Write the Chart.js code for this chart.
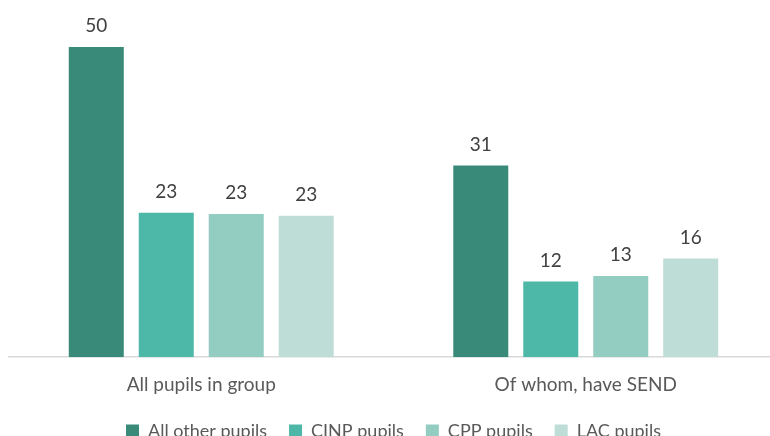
<!DOCTYPE html>
<html>
<head>
<meta charset="utf-8">
<script src="https://cdn.jsdelivr.net/npm/chart.js@4.4.1/dist/chart.umd.min.js"></script>
<style>
html,body{margin:0;padding:0;background:#fff;overflow:hidden;width:770px;height:436px;}
#wrap{width:780px;height:450px;position:relative;}
</style>
</head>
<body>
<div id="wrap"><canvas id="c" width="780" height="450"></canvas></div>
<script>
const categories = ["All pupils in group", "Of whom, have SEND"];
const seriesNames = ["All other pupils", "CINP pupils", "CPP pupils", "LAC pupils"];
const allOther = [50, 30.9];
const cinp = [23.3, 12.2];
const cpp = [23.1, 13.1];
const lac = [22.8, 15.9];
const colors = ["#3A8A7A", "#4DB8A8", "#93CCC1", "#BEDDD7"];

const FONT = "Lato, 'Liberation Sans', sans-serif";

const valueLabels = {
  id: "valueLabels",
  afterDatasetsDraw(chart) {
    const ctx = chart.ctx;
    ctx.save();
    ctx.font = "19px " + FONT;
    ctx.fillStyle = "#404040";
    ctx.textAlign = "center";
    ctx.textBaseline = "middle";
    chart.data.datasets.forEach((ds, i) => {
      const meta = chart.getDatasetMeta(i);
      meta.data.forEach((bar, j) => {
        ctx.fillText(Math.round(ds.data[j]).toString(), bar.x, bar.y - 21);
      });
    });
    ctx.restore();
  }
};

new Chart(document.getElementById("c"), {
  type: "bar",
  data: {
    labels: categories,
    datasets: [
      { label: seriesNames[0], data: allOther, backgroundColor: colors[0] },
      { label: seriesNames[1], data: cinp, backgroundColor: colors[1] },
      { label: seriesNames[2], data: cpp, backgroundColor: colors[2] },
      { label: seriesNames[3], data: lac, backgroundColor: colors[3] }
    ]
  },
  options: {
    responsive: false,
    animation: false,
    devicePixelRatio: 1,
    layout: { padding: { left: 9, right: 2, top: 16, bottom: 0 } },
    datasets: { bar: { barPercentage: 0.786, categoryPercentage: 0.728 } },
    plugins: {
      legend: {
        position: "bottom",
        labels: {
          boxWidth: 13, boxHeight: 13, padding: 22,
          color: "#595959",
          font: { family: FONT, size: 18 }
        }
      },
      tooltip: { enabled: false }
    },
    scales: {
      x: {
        grid: { display: false, drawTicks: false },
        border: { color: "#D9D9D9", width: 1.5 },
        ticks: { color: "#595959", padding: 16, font: { family: FONT, size: 19 } },
        afterFit(scale) { scale.height -= 12; }
      },
      y: {
        display: false,
        min: 0,
        max: 55
      }
    }
  },
  plugins: [valueLabels]
});
</script>
</body>
</html>
